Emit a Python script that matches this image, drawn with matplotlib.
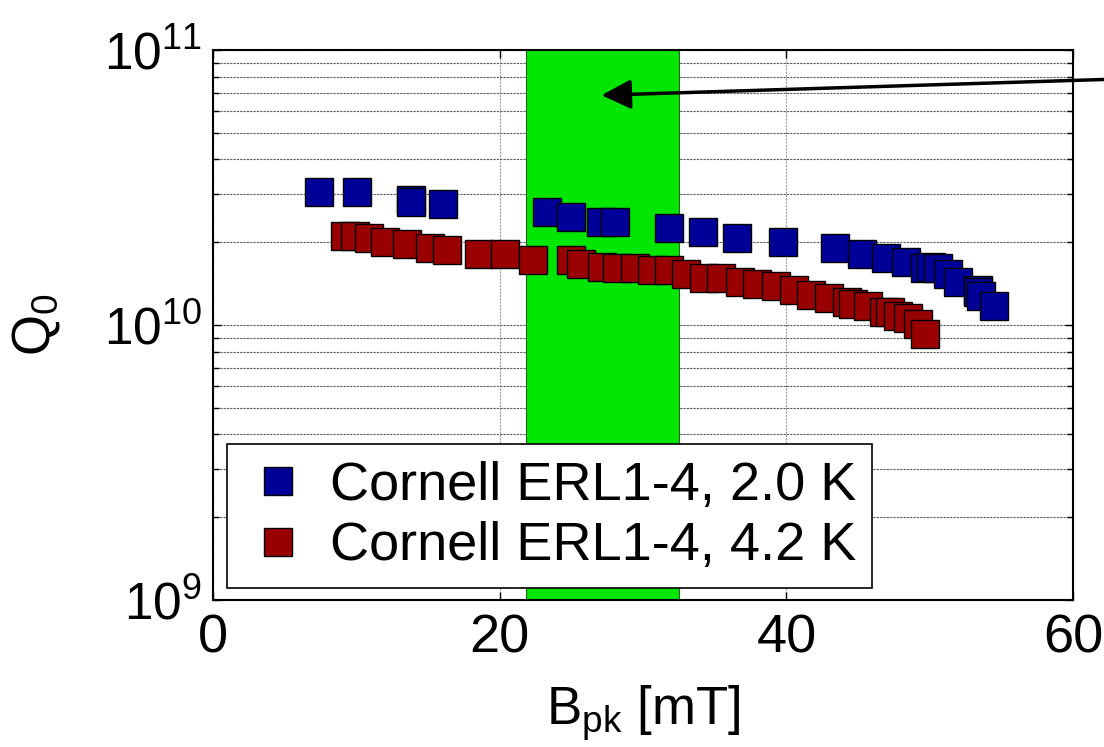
import matplotlib
matplotlib.use('Agg')
import matplotlib.pyplot as plt
from matplotlib.ticker import LogLocator, NullFormatter

# Dados (B_pk em mT, Q0)
b_20K = [7.4, 10.05, 13.8, 13.84, 16.05, 23.3, 25.0, 27.08, 28.07, 31.83,
         34.2, 36.58, 39.79, 43.42, 45.25, 46.93, 48.31, 49.7, 50.1, 50.56,
         51.26, 51.94, 53.34, 53.34, 53.6, 54.45]
q_20K = [3.05e10, 3.05e10, 2.85e10, 2.80e10, 2.75e10, 2.57e10, 2.48e10, 2.36e10, 2.36e10, 2.25e10,
         2.17e10, 2.07e10, 2.00e10, 1.90e10, 1.81e10, 1.75e10, 1.69e10, 1.61e10, 1.63e10, 1.61e10,
         1.53e10, 1.43e10, 1.34e10, 1.32e10, 1.27e10, 1.17e10]

b_42K = [9.21, 9.93, 10.91, 12.02, 13.56, 15.1, 16.35, 18.58, 20.4, 22.35,
         25.0, 25.7, 27.1, 28.2, 29.47, 30.59, 31.84, 32.96, 34.22, 35.47,
         36.73, 37.98, 39.24, 40.5, 41.75, 43.0, 44.26, 44.68, 45.66, 46.78,
         47.2, 47.75, 48.45, 49.15, 49.7]
q_42K = [2.10e10, 2.10e10, 2.07e10, 2.00e10, 1.97e10, 1.90e10, 1.87e10, 1.81e10, 1.81e10, 1.72e10,
         1.72e10, 1.66e10, 1.63e10, 1.61e10, 1.61e10, 1.58e10, 1.58e10, 1.53e10, 1.48e10, 1.48e10,
         1.43e10, 1.41e10, 1.38e10, 1.34e10, 1.29e10, 1.25e10, 1.21e10, 1.19e10, 1.17e10, 1.11e10,
         1.11e10, 1.08e10, 1.06e10, 1.01e10, 0.925e10]

labels = ['Cornell ERL1-4, 2.0 K', 'Cornell ERL1-4, 4.2 K']

# faixa verde e ponta da seta
faixa_b = [21.8, 32.5]
seta_ponta = (27.1, 6.85e10)

x_ticks = [0, 20, 40, 60]
y_ticks = [1e9, 1e10, 1e11]
y_ticklabels = ['$10^{9}$', '$10^{10}$', '$10^{11}$']

plt.rcParams['font.family'] = ['Liberation Sans', 'DejaVu Sans']
plt.rcParams['mathtext.default'] = 'regular'

fig = plt.figure(figsize=(11.04, 7.47), dpi=100)
ax = fig.add_axes([0.193, 0.197, 0.779, 0.736])

ax.set_axisbelow(True)
ax.axvspan(faixa_b[0], faixa_b[1], facecolor='#00e600', edgecolor='#2a5a2a', lw=0.8, zorder=1)

ax.plot(b_20K, q_20K, 's', ms=20, mfc='#000099', mec='k', mew=1, label=labels[0], zorder=3)
ax.plot(b_42K, q_42K, 's', ms=20, mfc='#990000', mec='k', mew=1, label=labels[1], zorder=3)

ax.set_yscale('log')
ax.set_xlim(0, 60)
ax.set_ylim(1e9, 1e11)
ax.set_xticks(x_ticks)
ax.set_yticks(y_ticks)
ax.set_yticklabels(y_ticklabels)
ax.yaxis.set_minor_locator(LogLocator(base=10, subs=range(2, 10)))
ax.yaxis.set_minor_formatter(NullFormatter())

ax.tick_params(axis='x', labelsize=39, pad=10)
ax.tick_params(axis='y', labelsize=37, pad=8)
ax.tick_params(which='both', direction='in', top=True, right=True, width=1)
ax.tick_params(which='major', length=6)
ax.tick_params(which='minor', length=4)

ax.yaxis.grid(True, which='both', color='0.35', linestyle=(0, (2, 1)), lw=0.8)
ax.xaxis.grid(True, which='major', color='0.6', linestyle=(0, (2, 1)), lw=0.8)
for s in ax.spines.values():
    s.set_linewidth(1.5)

ax.set_xlabel('B$_{pk}$ [mT]', fontsize=38, labelpad=14)
ax.set_ylabel('Q$_0$', fontsize=38, labelpad=30)

# seta vindo de fora da figura
ax.annotate('', xy=seta_ponta, xycoords='data', xytext=(1.03, 0.895), textcoords='figure fraction',
            arrowprops=dict(arrowstyle='-|>,head_length=0.6,head_width=0.3', lw=2.5, color='k',
                            mutation_scale=30, shrinkA=0, shrinkB=0),
            annotation_clip=False, zorder=5)

leg = ax.legend(loc='lower left', bbox_to_anchor=(0.016, 0.022), borderaxespad=0,
                fontsize=39, frameon=True, fancybox=False, edgecolor='k', framealpha=1,
                borderpad=0.3, handlelength=1.3, handletextpad=0.3, labelspacing=0.2,
                markerscale=1.0)
leg.get_frame().set_linewidth(1.2)
leg.set_zorder(6)

fig.savefig('out.png', dpi=100)
